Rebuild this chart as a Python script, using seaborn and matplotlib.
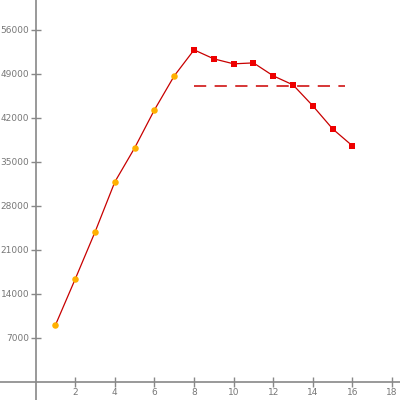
import numpy as np
import pandas as pd
import seaborn as sns
import matplotlib.pyplot as plt

# values
x_vals = [1, 2, 3, 4, 5, 6, 7, 8, 9, 10, 11, 12, 13, 14, 15, 16]
y_vals = [9020, 16340, 23820, 31780, 37180, 43230, 48640,
          52770, 51340, 50550, 50700, 48640, 47200, 43860, 40200, 37500]
rise_n = 7  # first points drawn orange, the rest red
mean_x = [8, 15.6]
y_ticks = [7000, 14000, 21000, 28000, 35000, 42000, 49000, 56000]
x_ticks = [2, 4, 6, 8, 10, 12, 14, 16, 18]

df = pd.DataFrame({"x": x_vals, "y": y_vals})
df["part"] = ["rise"] * rise_n + ["fall"] * (len(x_vals) - rise_n)
mean_y = df.loc[df.part == "fall", "y"].mean()

sns.set_style("white")
fig = plt.figure(figsize=(4, 4), dpi=100)
ax = fig.add_axes([0, 0, 1, 1])

sns.lineplot(data=df, x="x", y="y", color="#c80000", linewidth=0.9, ax=ax)
sns.scatterplot(data=df[df.part == "rise"], x="x", y="y", color="#ffb000",
                marker="o", s=22, edgecolor="#ffb000", linewidth=0, ax=ax, zorder=3)
sns.scatterplot(data=df[df.part == "fall"], x="x", y="y", color="#ee0000",
                marker="s", s=24, edgecolor="#ee0000", linewidth=0, ax=ax, zorder=3)
ax.plot(mean_x, [mean_y, mean_y], color="#cc0000", linewidth=1.1,
        dashes=(8, 5.5))

ax.set_xlim(-1.8, 18.4)
ax.set_ylim(-2900, 60700)
ax.set_xticks(x_ticks)
ax.set_yticks(y_ticks)
ax.set_xlabel("")
ax.set_ylabel("")

for side in ["top", "right"]:
    ax.spines[side].set_visible(False)
for side in ["left", "bottom"]:
    ax.spines[side].set_position(("data", 0))
    ax.spines[side].set_color("#888888")
    ax.spines[side].set_linewidth(1.2)
ax.spines["left"].set_bounds(-2900, 60700)
ax.spines["bottom"].set_bounds(-1.8, 18.4)

ax.tick_params(bottom=True, left=True, direction="inout", length=7, width=1,
               color="#888888", labelcolor="#777777", labelsize=6.5)
ax.tick_params(axis="y", pad=1)
ax.tick_params(axis="x", pad=1)

plt.savefig("out.png", dpi=100)
